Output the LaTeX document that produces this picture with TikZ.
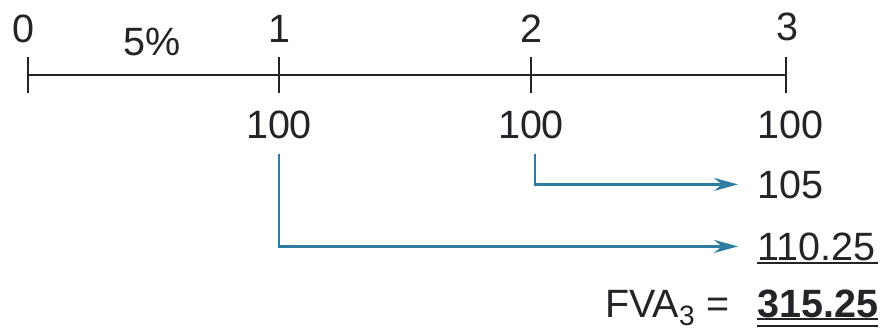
\documentclass[tikz,border=0pt]{standalone}
\usepackage{fontspec}
\setmainfont{Liberation Sans}
\usetikzlibrary{arrows.meta}
\definecolor{ink}{RGB}{35,35,40}
\definecolor{flow}{RGB}{46,125,160}
\tikzset{
  lbl/.style={inner sep=0pt, text=ink, font=\fontsize{39.5}{41}\selectfont},
  axis/.style={draw=ink, line width=2.8pt},
  tick/.style={draw=ink, line width=2.8pt},
  rule/.style={draw=ink, line width=2.8pt},
  flowarr/.style={draw=flow, line width=2.4pt,
    -{Stealth[length=24pt, width=13pt, inset=8pt]}},
}
\begin{document}
\begin{tikzpicture}[x=1pt, y=-1pt]
  \useasboundingbox (0,0) rectangle (885,335);

  % time line with period ticks
  \coordinate (t0) at (28,75);
  \coordinate (t1) at (279,75);
  \coordinate (t2) at (531,75);
  \coordinate (t3) at (786,75);
  \draw[axis] (t0) -- (t3);
  \foreach \t in {t0,t1,t2,t3}
    \draw[tick] ([yshift=18pt]\t) -- ([yshift=-18pt]\t);

  % period labels and rate
  \node[lbl, anchor=base] (p0) at (23,42) {0};
  \node[lbl, anchor=base] (rate) at (152,55) {5\%};
  \node[lbl, anchor=base] (p1) at (279,42) {1};
  \node[lbl, anchor=base] (p2) at (531,42) {2};
  \node[lbl, anchor=base] (p3) at (787,40) {3};

  % payments
  \node[lbl, anchor=base] (c1) at (279,138) {100};
  \node[lbl, anchor=base] (c2) at (531,138) {100};
  \node[lbl, anchor=base west] (c3) at (757,138) {100};

  % compounded values at year 3
  \node[lbl, anchor=base west] (v105) at (757,198) {105};
  \node[lbl, anchor=base west] (v110) at (757,260) {110.25};
  \node[lbl, anchor=base west, font=\fontsize{39.5}{41}\selectfont\bfseries] (total) at (757,317) {315.25};
  \node[lbl, anchor=base east] (fva) at (730,317)
    {FVA\raisebox{-8pt}{\fontsize{28}{30}\selectfont 3}\hspace{12pt}=};

  % sum rule and double underline
  \draw[rule] (757,263) -- (878,263);
  \draw[rule] (757,319) -- (878,319);
  \draw[rule] (757,326) -- (878,326);

  % compounding arrows
  \draw[flowarr] ([xshift=4pt, yshift=-15pt]c2.south) |- ([xshift=-19pt]v105.west);
  \draw[flowarr] ([yshift=-15pt]c1.south) |- ([xshift=-19pt]v110.west);
\end{tikzpicture}
\end{document}
